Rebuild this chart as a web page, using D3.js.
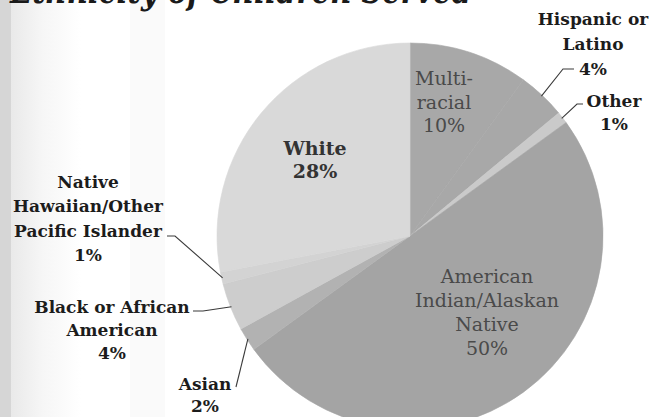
<!DOCTYPE html>
<html>
<head>
<meta charset="utf-8">
<script src="https://cdn.jsdelivr.net/npm/d3@7/dist/d3.min.js"></script>
<style>
  html, body { margin: 0; padding: 0; background: #ffffff; }
  svg { display: block; }
</style>
</head>
<body>
<svg id="chart" width="652" height="417"></svg>
<script>
// Ethnicity breakdown, clockwise from 12 o'clock
const categories = [
  "Multi-racial",
  "Hispanic or Latino",
  "Other",
  "American Indian/Alaskan Native",
  "Asian",
  "Black or African American",
  "Native Hawaiian/Other Pacific Islander",
  "White"
];
const percents = [10, 4, 1, 50, 2, 4, 1, 28];
const sliceColors = ["#a8a8a8", "#a8a8a8", "#cacaca", "#a4a4a4", "#b2b2b2", "#cdcdcd", "#d3d3d3", "#d9d9d9"];

// Label text lines (the percentage line is appended from the data)
const labelLines = [
  ["Multi-", "racial"],
  ["Hispanic or", "Latino"],
  ["Other"],
  ["American", "Indian/Alaskan", "Native"],
  ["Asian"],
  ["Black or African", "American"],
  ["Native", "Hawaiian/Other", "Pacific Islander"],
  ["White"]
];

const svg = d3.select("#chart");
const W = 652, H = 417;
const cx = 410, cy = 236, R = 193;

// slide background: grey edge band and faint vertical sheen
const defs = svg.append("defs");
const g1 = defs.append("linearGradient").attr("id", "sheen").attr("x1", 0).attr("x2", 1);
g1.append("stop").attr("offset", 0).attr("stop-color", "#e9e9e9");
g1.append("stop").attr("offset", 0.45).attr("stop-color", "#f6f6f6");
g1.append("stop").attr("offset", 1).attr("stop-color", "#ffffff");
svg.append("rect").attr("width", W).attr("height", H).attr("fill", "#ffffff");
svg.append("rect").attr("x", 11).attr("width", 70).attr("height", H).attr("fill", "url(#sheen)");
svg.append("rect").attr("x", 130).attr("width", 35).attr("height", H).attr("fill", "#fafafa");
svg.append("rect").attr("x", 0).attr("width", 11).attr("height", H).attr("fill", "#d6d6d6");

// title, mostly cropped off the top edge of the slide; squeezed horizontally
const title = svg.append("text")
  .attr("x", 0).attr("y", 0)
  .style("font-family", "'DejaVu Serif', serif")
  .style("font-weight", "bold").style("font-style", "italic")
  .style("font-size", "40px").attr("fill", "#1a1a1a")
  .text("Ethnicity of Children Served");
const natural = title.node().getComputedTextLength();
title.attr("transform", `translate(10,3) scale(${462 / natural},1)`);

const pie = d3.pie().sort(null).value(d => d).startAngle(0).endAngle(2 * Math.PI);
const arcs = pie(percents);
const arc = d3.arc().innerRadius(0).outerRadius(R);

const g = svg.append("g").attr("transform", `translate(${cx},${cy})`);
g.selectAll("path.slice")
  .data(arcs)
  .join("path")
  .attr("class", "slice")
  .attr("d", arc)
  .attr("fill", (d, i) => sliceColors[i])
  .attr("stroke", (d, i) => sliceColors[i])
  .attr("stroke-width", 0.6)
  .attr("stroke-linejoin", "round");

// label layout: anchor (center x, first baseline), line gap, inside/outside
const labelLayout = [
  { x: 444, y: 85, gap: 23.5, inside: true },
  { x: 593, y: 25, gap: 25, inside: false, elbow: [[563, 69], [574, 69]] },
  { x: 614, y: 107, gap: 23, inside: false, elbow: [[577, 104], [583, 104]] },
  { x: 487, y: 283, gap: 24, inside: true },
  { x: 205, y: 390, gap: 22, inside: false, elbow: [[236, 387]] },
  { x: 112, y: 313, gap: 23, inside: false, elbow: [[203, 311], [193, 311]] },
  { x: 88, y: 188, gap: 24.3, inside: false, elbow: [[175, 236], [167, 236]] },
  { x: 315, y: 155, gap: 23, inside: true, bold: true }
];

// leader lines: start on the pie rim at each slice's mid angle
const pointOnRim = (d, r) => {
  const a = (d.startAngle + d.endAngle) / 2;
  return [cx + r * Math.sin(a), cy - r * Math.cos(a)];
};
const line = d3.line();
arcs.forEach((d, i) => {
  const L = labelLayout[i];
  if (L.inside) return;
  const pts = [pointOnRim(d, R - 1)].concat(L.elbow);
  svg.append("path")
    .attr("d", line(pts))
    .attr("fill", "none")
    .attr("stroke", "#3a3a3a")
    .attr("stroke-width", 1.1);
});

// labels
arcs.forEach((d, i) => {
  const L = labelLayout[i];
  const lines = labelLines[i].concat([percents[i] + "%"]);
  const t = svg.append("text")
    .attr("text-anchor", "middle")
    .style("font-family", "'DejaVu Serif', serif")
    .style("font-size", L.inside ? "19px" : "17px")
    .style("font-weight", L.inside ? (L.bold ? "600" : "normal") : "bold")
    .attr("fill", L.inside ? (L.bold ? "#333333" : "#4a4a4a") : "#1c1c1c");
  lines.forEach((s, k) => {
    t.append("tspan").attr("x", L.x).attr("y", L.y + k * L.gap).text(s);
  });
});
</script>
</body>
</html>
